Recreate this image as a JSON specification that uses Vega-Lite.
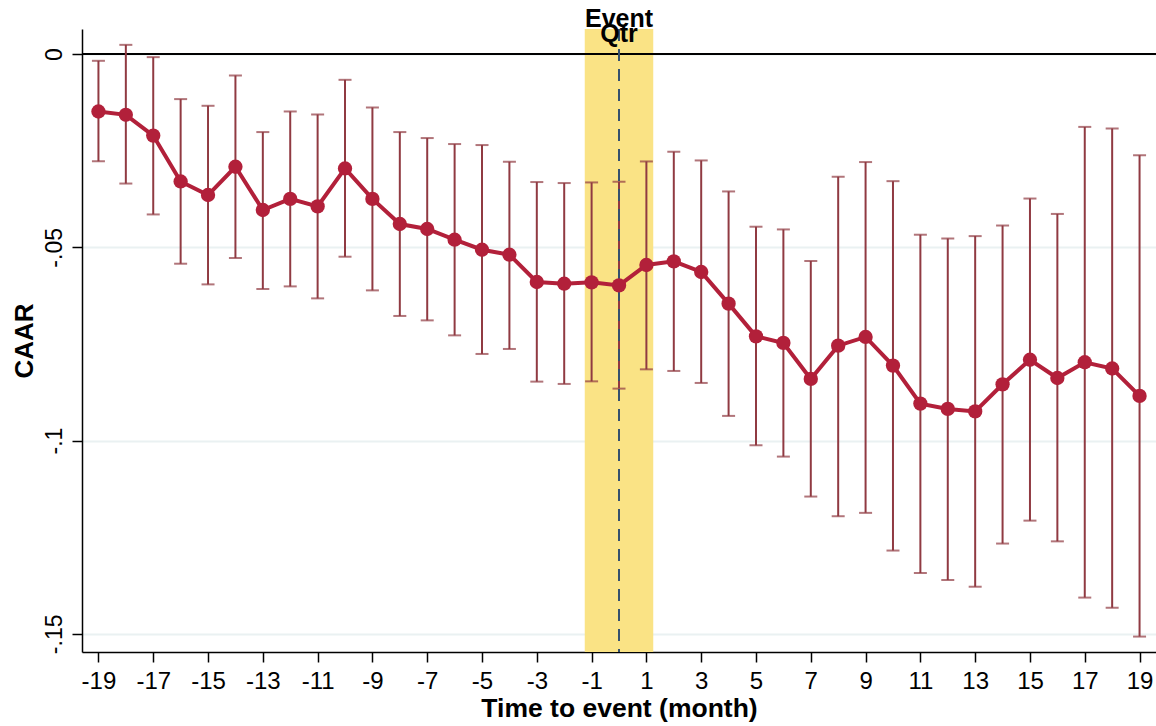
{
  "$schema": "https://vega.github.io/schema/vega-lite/v6.json",
  "width": 1074,
  "height": 623,
  "autosize": {"type": "none"},
  "padding": {"left": 82, "top": 29, "right": 0, "bottom": 74},
  "background": "white",
  "config": {
    "view": {"stroke": null},
    "font": "Liberation Sans"
  },
  "datasets": {
    "caar": [
      {"t": -19, "caar": -0.01484, "lo": -0.02772, "hi": -0.00173},
      {"t": -18, "caar": -0.01570, "lo": -0.03349, "hi": 0.00240},
      {"t": -17, "caar": -0.02108, "lo": -0.04148, "hi": -0.00078},
      {"t": -16, "caar": -0.03295, "lo": -0.05423, "hi": -0.01164},
      {"t": -15, "caar": -0.03646, "lo": -0.05958, "hi": -0.01337},
      {"t": -14, "caar": -0.02914, "lo": -0.05275, "hi": -0.00553},
      {"t": -13, "caar": -0.04034, "lo": -0.06077, "hi": -0.02017},
      {"t": -12, "caar": -0.03747, "lo": -0.06010, "hi": -0.01484},
      {"t": -11, "caar": -0.03941, "lo": -0.06320, "hi": -0.01562},
      {"t": -10, "caar": -0.02958, "lo": -0.05242, "hi": -0.00665},
      {"t": -9, "caar": -0.03747, "lo": -0.06113, "hi": -0.01381},
      {"t": -8, "caar": -0.04396, "lo": -0.06775, "hi": -0.02017},
      {"t": -7, "caar": -0.04525, "lo": -0.06889, "hi": -0.02172},
      {"t": -6, "caar": -0.04802, "lo": -0.07277, "hi": -0.02327},
      {"t": -5, "caar": -0.05061, "lo": -0.07758, "hi": -0.02353},
      {"t": -4, "caar": -0.05190, "lo": -0.07629, "hi": -0.02785},
      {"t": -3, "caar": -0.05896, "lo": -0.08474, "hi": -0.03310},
      {"t": -2, "caar": -0.05940, "lo": -0.08534, "hi": -0.03336},
      {"t": -1, "caar": -0.05906, "lo": -0.08467, "hi": -0.03320},
      {"t": 0, "caar": -0.05984, "lo": -0.08655, "hi": -0.03302},
      {"t": 1, "caar": -0.05456, "lo": -0.08156, "hi": -0.02777},
      {"t": 2, "caar": -0.05363, "lo": -0.08198, "hi": -0.02526},
      {"t": 3, "caar": -0.05637, "lo": -0.08508, "hi": -0.02751},
      {"t": 4, "caar": -0.06457, "lo": -0.09361, "hi": -0.03553},
      {"t": 5, "caar": -0.07303, "lo": -0.10121, "hi": -0.04466},
      {"t": 6, "caar": -0.07473, "lo": -0.10414, "hi": -0.04536},
      {"t": 7, "caar": -0.08404, "lo": -0.11448, "hi": -0.05353},
      {"t": 8, "caar": -0.07543, "lo": -0.11957, "hi": -0.03173},
      {"t": 9, "caar": -0.07318, "lo": -0.11870, "hi": -0.02793},
      {"t": 10, "caar": -0.08060, "lo": -0.12845, "hi": -0.03287},
      {"t": 11, "caar": -0.09043, "lo": -0.13426, "hi": -0.04673},
      {"t": 12, "caar": -0.09180, "lo": -0.13607, "hi": -0.04771},
      {"t": 13, "caar": -0.09245, "lo": -0.13781, "hi": -0.04709},
      {"t": 14, "caar": -0.08544, "lo": -0.12664, "hi": -0.04435},
      {"t": 15, "caar": -0.07908, "lo": -0.12071, "hi": -0.03737},
      {"t": 16, "caar": -0.08381, "lo": -0.12607, "hi": -0.04135},
      {"t": 17, "caar": -0.07973, "lo": -0.14062, "hi": -0.01883},
      {"t": 18, "caar": -0.08135, "lo": -0.14326, "hi": -0.01927},
      {"t": 19, "caar": -0.08844, "lo": -0.15071, "hi": -0.02617}
    ],
    "band": [{"x1": -1.25, "x2": 1.25}],
    "zero": [{"y": 0}],
    "event": [{"x": 0, "y": 0.007, "label": "Event\nQtr"}]
  },
  "layer": [
    {
      "data": {"name": "band"},
      "mark": {"type": "rect", "color": "#FAE385", "opacity": 1},
      "encoding": {
        "x": {
          "field": "x1", "type": "quantitative",
          "scale": {"domain": [-19.6, 19.6], "nice": false, "zero": false},
          "axis": {
            "values": [-19, -17, -15, -13, -11, -9, -7, -5, -3, -1, 1, 3, 5, 7, 9, 11, 13, 15, 17, 19],
            "labelExpr": "replace(format(datum.value, 'd'), '\u2212', '-')",
            "title": "Time to event (month)",
            "titleFontSize": 26.5,
            "titleFontWeight": "bold",
            "titleColor": "black",
            "titlePadding": 2,
            "labelFontSize": 24,
            "labelColor": "black",
            "labelPadding": 7,
            "labelFlush": false,
            "labelOverlap": false,
            "tickSize": 10,
            "tickColor": "black",
            "tickWidth": 1.5,
            "domainColor": "black",
            "domainWidth": 1.5,
            "grid": false
          }
        },
        "x2": {"field": "x2"}
      }
    },
    {
      "data": {"name": "zero"},
      "mark": {"type": "rule", "color": "#7a8a96", "strokeWidth": 0},
      "encoding": {
        "y": {
          "field": "y", "type": "quantitative",
          "scale": {"domain": [-0.1547, 0.0065], "nice": false, "zero": false},
          "axis": {
            "values": [0, -0.05, -0.1, -0.15],
            "labelExpr": "replace(replace(format(datum.value, '~g'), '0.', '.'), '\u2212', '-')",
            "title": "CAAR",
            "titleFontSize": 26,
            "titleFontWeight": "bold",
            "titleColor": "black",
            "titlePadding": 6,
            "labelFontSize": 23,
            "labelColor": "black",
            "labelAngle": -90,
            "labelAlign": "center",
            "labelBaseline": "bottom",
            "labelPadding": 6,
            "labelFlush": false,
            "tickSize": 10,
            "tickColor": "black",
            "tickWidth": 1.5,
            "domainColor": "black",
            "domainWidth": 1.5,
            "grid": true,
            "gridColor": "#EAF1F2",
            "gridWidth": 2
          }
        }
      }
    },
    {
      "data": {"name": "zero"},
      "mark": {"type": "rule", "color": "black", "strokeWidth": 2},
      "encoding": {"y": {"field": "y", "type": "quantitative"}}
    },
    {
      "data": {"name": "caar"},
      "mark": {"type": "rule", "color": "#903A42", "strokeWidth": 2},
      "encoding": {
        "x": {"field": "t", "type": "quantitative"},
        "y": {"field": "lo", "type": "quantitative"},
        "y2": {"field": "hi"}
      }
    },
    {
      "data": {"name": "caar"},
      "mark": {"type": "tick", "orient": "horizontal", "color": "#903A42", "size": 13, "thickness": 2},
      "encoding": {
        "x": {"field": "t", "type": "quantitative"},
        "y": {"field": "lo", "type": "quantitative"}
      }
    },
    {
      "data": {"name": "caar"},
      "mark": {"type": "tick", "orient": "horizontal", "color": "#903A42", "size": 13, "thickness": 2},
      "encoding": {
        "x": {"field": "t", "type": "quantitative"},
        "y": {"field": "hi", "type": "quantitative"}
      }
    },
    {
      "data": {"name": "event"},
      "mark": {"type": "rule", "color": "#35516E", "strokeWidth": 2, "strokeDash": [12, 8]},
      "encoding": {"x": {"field": "x", "type": "quantitative"}}
    },
    {
      "data": {"name": "caar"},
      "mark": {"type": "line", "color": "#B2203A", "strokeWidth": 4},
      "encoding": {
        "x": {"field": "t", "type": "quantitative"},
        "y": {"field": "caar", "type": "quantitative"}
      }
    },
    {
      "data": {"name": "caar"},
      "mark": {"type": "circle", "color": "#B2203A", "opacity": 1, "size": 205},
      "encoding": {
        "x": {"field": "t", "type": "quantitative"},
        "y": {"field": "caar", "type": "quantitative"}
      }
    },
    {
      "data": {"name": "event"},
      "mark": {"type": "text", "font": "Liberation Sans", "fontWeight": "bold", "fontSize": 25, "align": "center", "baseline": "alphabetic", "lineBreak": "\n", "lineHeight": 15, "color": "black"},
      "encoding": {
        "x": {"field": "x", "type": "quantitative"},
        "y": {"field": "y", "type": "quantitative"},
        "text": {"field": "label"}
      }
    }
  ]
}
